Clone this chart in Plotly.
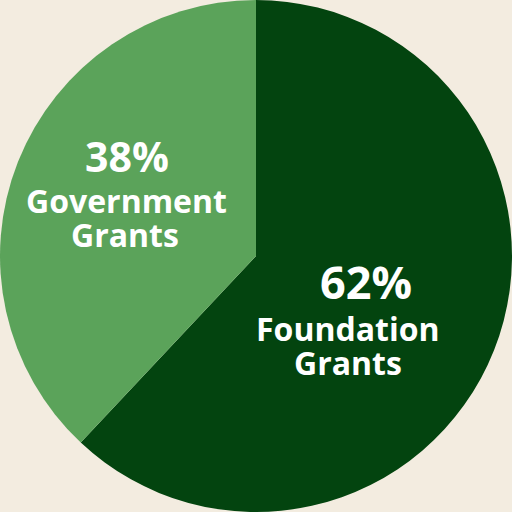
import plotly.graph_objects as go

categories = ["Foundation Grants", "Government Grants"]
label_lines = [["Foundation", "Grants"], ["Government", "Grants"]]
values = [62, 38]
colors = ["#03440F", "#5BA35A"]
bg = "#F3ECE0"

W = H = 512
# label layout (pixel positions, from top-left) for each slice
pct_pos = [(366, 281), (126.5, 156)]
pct_size = [45, 41]
line_pos = [[(347.5, 327.5), (347.5, 361.5)], [(126, 199.5), (124.5, 233.5)]]
line_size = 32

fig = go.Figure(go.Pie(
    labels=categories,
    values=values,
    sort=False,
    direction="clockwise",
    rotation=0,
    marker=dict(colors=colors, line=dict(width=0)),
    textinfo="none",
    hoverinfo="skip",
    showlegend=False,
    domain=dict(x=[0, 1], y=[0, 1]),
))

total = sum(values)
annotations = []
for i, v in enumerate(values):
    px, py = pct_pos[i]
    annotations.append(dict(
        text=f"{round(100 * v / total)}%", x=px / W, y=1 - py / H,
        xref="paper", yref="paper", xanchor="center", yanchor="middle",
        showarrow=False, height=40, valign="middle",
        font=dict(family="Open Sans", size=pct_size[i], color="white", weight="bold"),
    ))
    for line, (lx, ly) in zip(label_lines[i], line_pos[i]):
        annotations.append(dict(
            text=line, x=lx / W, y=1 - ly / H,
            xref="paper", yref="paper", xanchor="center", yanchor="middle",
            showarrow=False, height=30, valign="middle",
            font=dict(family="Open Sans", size=line_size, color="white", weight="bold"),
        ))

fig.update_layout(
    width=W, height=H,
    margin=dict(l=0, r=0, t=0, b=0),
    paper_bgcolor=bg, plot_bgcolor=bg,
    annotations=annotations,
)
fig.write_html("out.html", config={"displayModeBar": False},
               post_script="document.body.style.margin='0';")
